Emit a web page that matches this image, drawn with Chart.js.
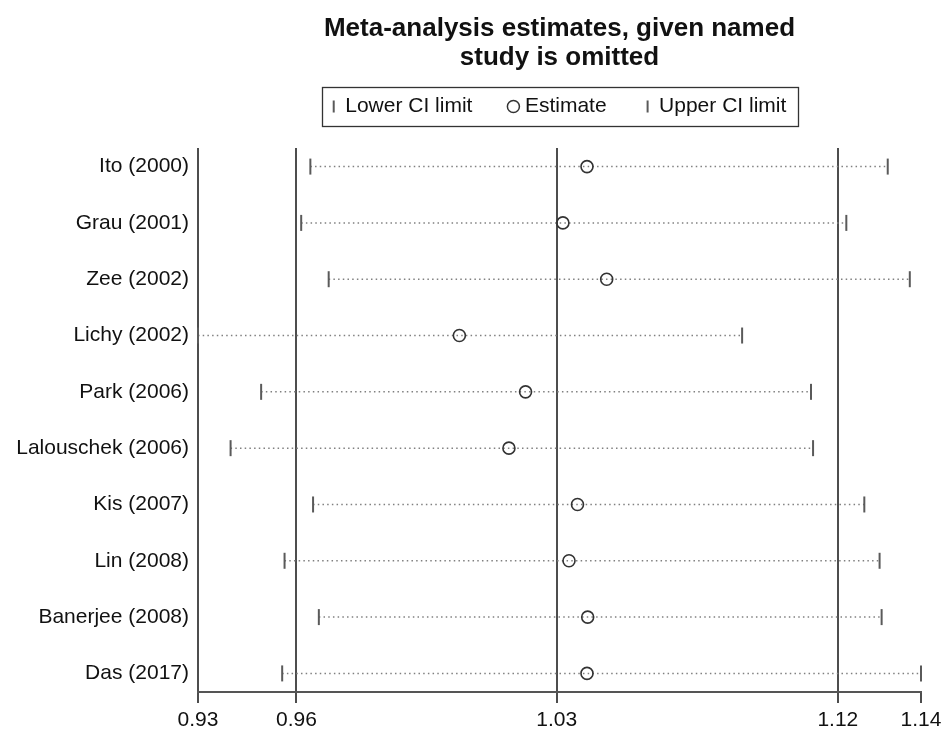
<!DOCTYPE html>
<html>
<head>
<meta charset="utf-8">
<script src="https://cdn.jsdelivr.net/npm/chart.js@4/dist/chart.umd.min.js"></script>
<style>
html,body{margin:0;padding:0;background:#ffffff;}
canvas{display:block;}
</style>
</head>
<body>
<canvas id="c" width="943" height="729"></canvas>
<script>
// ---- data ----
const studies = ['Ito (2000)','Grau (2001)','Zee (2002)','Lichy (2002)','Park (2006)','Lalouschek (2006)','Kis (2007)','Lin (2008)','Banerjee (2008)','Das (2017)'];
const lowerCI = [0.9611, 0.9584, 0.9665, 0.9280, 0.9466, 0.9376, 0.9619, 0.9535, 0.9636, 0.9528];
const estimates = [1.0426, 1.0355, 1.0484, 1.0050, 1.0245, 1.0196, 1.0398, 1.0373, 1.0428, 1.0426];
const upperCI = [1.1312, 1.1190, 1.1377, 1.0883, 1.1086, 1.1092, 1.1243, 1.1288, 1.1294, 1.1410];
const tickValues = [0.928, 0.957, 1.0337, 1.1165, 1.141];
const tickLabels = ['0.93', '0.96', '1.03', '1.12', '1.14'];
const titleLines = ['Meta-analysis estimates, given named', 'study is omitted'];
const legendLabels = ['Lower CI limit', 'Estimate', 'Upper CI limit'];

Chart.defaults.font.family = "'Liberation Sans', Arial, Helvetica, sans-serif";
Chart.defaults.color = '#111111';

const ciDatasets = studies.map((s, i) => ({
  label: s,
  data: [{x: lowerCI[i], y: i + 1}, {x: upperCI[i], y: i + 1}],
  showLine: true,
  borderColor: '#808080',
  borderWidth: 1.5,
  borderDash: [1.5, 3.2],
  pointRadius: 0,
  fill: false,
  order: 10,
  xAxisID: 'x', yAxisID: 'y'
}));

const markerDatasets = [
  {
    label: legendLabels[0],
    data: lowerCI.map((v, i) => ({x: v, y: i + 1})),
    showLine: false,
    pointStyle: 'line', pointRotation: 90, pointRadius: 8,
    pointBorderWidth: 2, pointBorderColor: '#5a5a5a', borderColor: '#5a5a5a',
    clip: false, order: 1, xAxisID: 'x', yAxisID: 'y'
  },
  {
    label: legendLabels[1],
    data: estimates.map((v, i) => ({x: v, y: i + 1})),
    showLine: false,
    pointStyle: 'circle', pointRadius: 6,
    pointBorderWidth: 1.6, pointBorderColor: '#333333', pointBackgroundColor: 'rgba(0,0,0,0)',
    borderColor: '#333333',
    clip: false, order: 0, xAxisID: 'x', yAxisID: 'y'
  },
  {
    label: legendLabels[2],
    data: upperCI.map((v, i) => ({x: v, y: i + 1})),
    showLine: false,
    pointStyle: 'line', pointRotation: 90, pointRadius: 8,
    pointBorderWidth: 2, pointBorderColor: '#5a5a5a', borderColor: '#5a5a5a',
    clip: false, order: 1, xAxisID: 'x', yAxisID: 'y'
  }
];

const legendBox = {
  id: 'legendBox',
  afterDraw(chart) {
    const lg = chart.legend;
    if (!lg || !lg.legendHitBoxes || !lg.legendHitBoxes.length) return;
    const hb = lg.legendHitBoxes;
    const l = Math.min(...hb.map(h => h.left)) - 11;
    const r = Math.max(...hb.map(h => h.left + h.width)) + 11;
    const cy = hb[0].top + hb[0].height / 2;
    const ctx = chart.ctx;
    ctx.save();
    ctx.strokeStyle = '#333333';
    ctx.lineWidth = 1.3;
    ctx.strokeRect(Math.round(l) + 0.5, Math.round(cy - 19.5) + 0.5, Math.round(r - l), 39);
    ctx.restore();
  }
};

new Chart(document.getElementById('c'), {
  type: 'scatter',
  data: { datasets: [...markerDatasets, ...ciDatasets] },
  plugins: [legendBox],
  options: {
    responsive: false,
    animation: false,
    events: [],
    layout: { padding: { left: 0, right: 22, top: 0, bottom: 0 } },
    plugins: {
      tooltip: { enabled: false },
      title: {
        display: true,
        text: titleLines,
        fullSize: false,
        color: '#111111',
        font: { size: 26, weight: 'bold', lineHeight: 29 / 26 },
        padding: { top: 14, bottom: -16 }
      },
      legend: {
        display: true,
        position: 'top',
        align: 'center',
        fullSize: false,
        labels: {
          usePointStyle: true,
          boxWidth: 2,
          boxHeight: 8.5,
          padding: 40,
          color: '#111111',
          font: { size: 21 },
          generateLabels: () => legendLabels.map((t, i) => ({
            text: t,
            pointStyle: i === 1 ? 'circle' : 'line',
            rotation: i === 1 ? 0 : 90,
            strokeStyle: i === 1 ? '#333333' : '#5a5a5a',
            fillStyle: 'rgba(0,0,0,0)',
            lineWidth: i === 1 ? 1.5 : 2,
            fontColor: '#111111',
            hidden: false,
            datasetIndex: i
          }))
        }
      }
    },
    scales: {
      x: {
        type: 'linear',
        position: 'bottom',
        min: tickValues[0],
        max: tickValues[tickValues.length - 1],
        afterBuildTicks: s => { s.ticks = tickValues.map(v => ({ value: v })); },
        afterFit: s => { s.height = 37; s.paddingRight = 0; s.paddingLeft = 0; },
        ticks: {
          callback: (v, i) => tickLabels[i],
          font: { size: 21 },
          color: '#111111',
          padding: 5,
          maxRotation: 0,
          autoSkip: false
        },
        grid: {
          color: c => (c.index === tickValues.length - 1 ? 'rgba(0,0,0,0)' : '#4d4d4d'),
          tickColor: '#4d4d4d',
          lineWidth: 2,
          tickLength: 11,
          drawOnChartArea: true
        },
        border: { display: true, color: '#555555', width: 2 }
      },
      y: {
        type: 'linear',
        position: 'left',
        reverse: true,
        min: 0.67,
        max: 10.33,
        afterBuildTicks: s => { s.ticks = studies.map((_, i) => ({ value: i + 1 })); },
        afterFit: s => { s.width = 198; },
        ticks: {
          callback: v => studies[v - 1],
          font: { size: 21 },
          color: '#111111',
          padding: 9,
          autoSkip: false
        },
        grid: { display: false, drawTicks: false },
        border: { display: false }
      },
      gap: {
        type: 'linear',
        position: 'top',
        display: true,
        ticks: { display: false },
        grid: { display: false, drawTicks: false },
        border: { display: false },
        afterFit: s => { s.height = 21; }
      }
    }
  }
});
</script>
</body>
</html>
